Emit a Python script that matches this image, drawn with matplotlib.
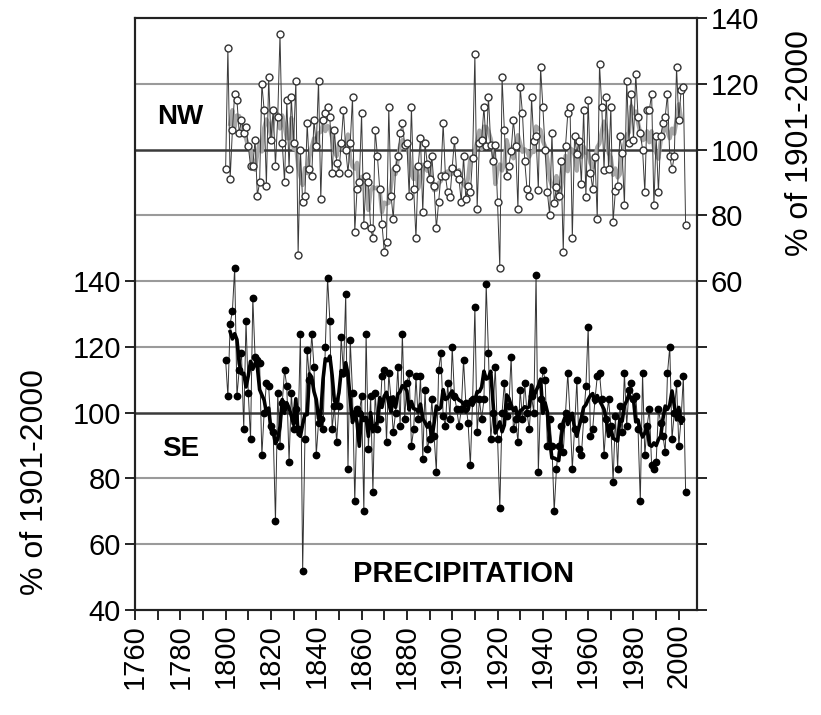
import matplotlib.pyplot as plt
import numpy as np
import pandas as pd

plt.rcParams['font.family'] = ['Liberation Sans', 'DejaVu Sans']

# NW precipitation, % of 1901-2000 (right axis), 1800-2003
years = np.arange(1800, 2004)
nw = [94, 131, 91, 106, 117, 115, 105, 109, 105, 107,
      101, 95, 95, 103, 86, 90, 120, 112, 89, 122,
      103, 112, 95, 110, 135, 102, 90, 115, 94, 116,
      102, 121, 68, 100, 84, 86, 108, 94, 92, 109,
      101, 121, 85, 109, 111, 113, 110, 93, 106, 96,
      93, 102, 112, 100, 93, 102, 116, 75, 88, 90,
      111, 77, 92, 90, 76, 73, 106, 98, 88,
      77.5, 69, 72, 113, 86, 79, 94.5, 98, 105, 108,
      101.5, 102, 86, 113, 88, 73, 95, 103.5, 81, 102,
      95.5, 91, 98, 89, 76, 84, 92, 108, 92, 87,
      85.5, 94.5, 103, 93, 91, 84, 98, 85, 89, 87,
      97.5, 129, 82, 102, 103, 113, 101, 116, 101.5, 96.5,
      101.5, 84, 64, 122, 106, 92, 95, 99.5, 109, 101,
      82, 119, 111, 96.5, 88, 86,
      116, 102.5, 104, 87.7, 125, 113, 100, 87, 80, 105,
      83.6, 88.7, 86, 96.5, 69, 101, 111, 113, 73, 104,
      98.7, 102.5, 89.6, 112, 85.5, 115, 93, 88, 97.7, 79,
      126, 113, 93.7, 116, 94, 113, 78, 87.4, 89, 104,
      99, 83, 121, 102, 117, 103, 123, 110, 105, 100,
      87, 112, 112, 117, 83, 104, 87, 104, 108, 110,
      117, 98, 94, 98, 125, 109, 118, 119, 77]

# SE precipitation, % of 1901-2000 (left axis), 1800-2003
se = [116, 105, 127, 131, 144, 105, 113, 118, 95, 128,
      106, 92, 135, 117, 116, 115, 87, 100, 109, 108,
      96, 94, 67, 106, 90, 103, 113, 108, 85, 106,
      95, 101, 95, 124, 52, 92, 119, 110, 124, 114,
      87, 97, 98, 95, 120, 141, 128, 95, 102, 91,
      102, 123, 112, 136, 83, 122, 106, 73, 101, 100,
      105, 70, 124, 89, 105, 76,
      106, 95, 98, 111, 113, 91, 112, 104, 94, 100,
      114, 96, 124, 98, 109, 112, 90, 95, 111, 98,
      111, 86, 107, 89, 92, 104, 93, 82, 113, 118,
      99, 96, 109, 98,
      120, 105, 101, 96, 101, 116, 103, 97, 84, 104,
      132, 94, 104, 98, 104, 139, 118, 92, 100, 114,
      92, 71, 100, 109, 99, 102, 117, 95, 98, 91,
      107, 98, 109, 100, 95, 105, 100,
      142, 82, 104, 113, 110, 90, 98, 90, 70, 83,
      90, 96, 88, 100, 112, 99, 83, 95, 110, 89,
      87, 98, 108, 126, 93, 95, 104, 111, 112, 104,
      87, 98, 104, 96, 79, 99, 83, 102, 94, 112,
      96, 107, 109, 104, 105, 95, 73, 112, 87, 96,
      101, 84, 83, 85, 101, 97, 93, 88, 112, 120,
      92, 100, 109, 90, 98, 111, 76]

nw_smooth = pd.Series(nw).rolling(5, center=True).mean()
se_smooth = pd.Series(se).rolling(5, center=True).mean()

fig = plt.figure(figsize=(8.21, 7.15), dpi=100)
ax = fig.add_axes([0.1644, 0.1469, 0.6845, 0.8279])
ax2 = ax.twinx()

# grid lines (left-axis units); 100 lines darker
for v in range(60, 220, 20):
    if v in (100, 180):
        ax.axhline(v, color='#3a3a3a', lw=1.8, zorder=1)
    else:
        ax.axhline(v, color='#9a9a9a', lw=1.5, zorder=1)

# SE series
ax.plot(years, se, color='#333333', lw=0.7, zorder=2)
ax.plot(years, se, 'o', color='black', ms=4.6, zorder=3)
ax.plot(years, se_smooth, color='black', lw=2.6, zorder=4)

# NW series on right scale
ax2.plot(years, nw_smooth, color='#a8a8a8', lw=3, zorder=2)
ax2.plot(years, nw, color='#3a3a3a', lw=0.7, zorder=3)
ax2.plot(years, nw, 'o', mfc='white', mec='#333333', mew=1.0, ms=5, zorder=4)

ax.set_xlim(1760, 2008)
ax.set_ylim(40, 220)
ax2.set_ylim(-40, 140)

ax.set_yticks(range(40, 160, 20))
ax.set_xticks(range(1760, 2010, 10))
ax.set_xticklabels([str(y) if y % 20 == 0 else '' for y in range(1760, 2010, 10)],
                   rotation=90)
ax2.set_yticks(range(-40, 160, 20))
ax2.set_yticklabels([str(v) if v >= 60 else '' for v in range(-40, 160, 20)])

for a in (ax, ax2):
    a.tick_params(direction='out', length=7, width=1.2, labelsize=21, pad=3)
    for s in a.spines.values():
        s.set_linewidth(1.5)
        s.set_color('#222222')

fig.text(0.043, 1 - 482 / 715, '% of 1901-2000', rotation=90, fontsize=23,
         ha='center', va='center')
fig.text(0.975, 1 - 143 / 715, '% of 1901-2000', rotation=90, fontsize=23,
         ha='center', va='center')

ax.text(1780, 190, 'NW', fontsize=20, fontweight='bold', ha='center', va='center')
ax.text(1780, 89, 'SE', fontsize=20, fontweight='bold', ha='center', va='center')
ax.text(1905, 51, 'PRECIPITATION', fontsize=21, fontweight='bold',
        ha='center', va='center')

fig.savefig('out.png', dpi=100)
